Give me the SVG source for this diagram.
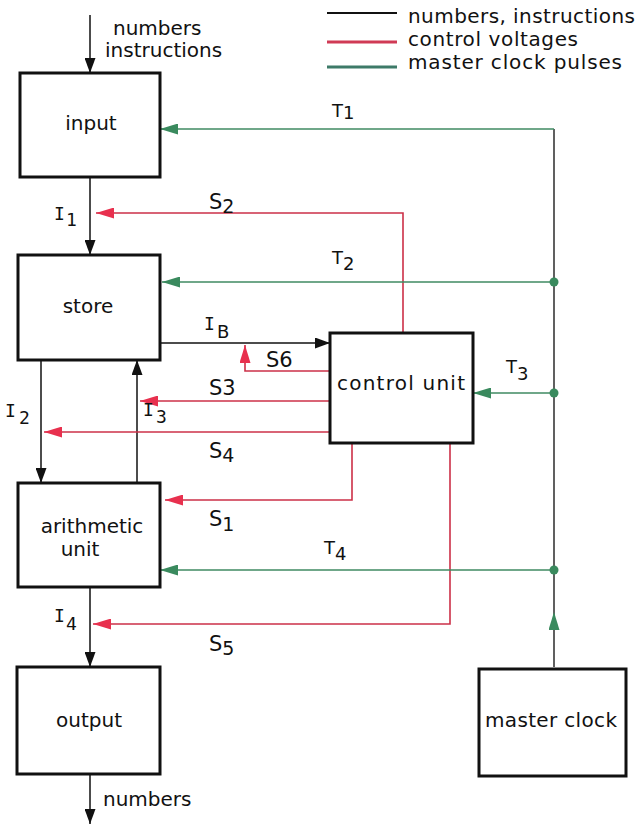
<svg xmlns="http://www.w3.org/2000/svg" width="639" height="826" viewBox="0 0 639 826">
<style>
.box{fill:#fff;stroke:#111;stroke-width:3}
.t{font-family:"DejaVu Sans",sans-serif;font-size:20px;fill:#111}
.lb{font-family:"DejaVu Sans",sans-serif;font-size:21px;fill:#111}
.lt{font-family:"DejaVu Sans",sans-serif;font-size:18px;fill:#111}
.li{font-family:"DejaVu Sans Mono",monospace;font-size:18px;fill:#111}
.k{fill:none;stroke:#111;stroke-width:1.5}
.r{fill:none;stroke:#cc3048;stroke-width:1.6}
.g{fill:none;stroke:#3f8a62;stroke-width:1.6}
.v{fill:none;stroke:#2b2b2b;stroke-width:1.5}
.dot{fill:#3a8a5e}
</style>
<defs>
<marker id="ak" markerUnits="userSpaceOnUse" markerWidth="15" markerHeight="11" refX="15" refY="5.5" orient="auto"><path d="M0,0 L15,5.5 L0,11 z" fill="#111"/></marker>
<marker id="ar" markerUnits="userSpaceOnUse" markerWidth="18" markerHeight="11" refX="18" refY="5.5" orient="auto"><path d="M0,0 L18,5.5 L0,11 z" fill="#e8304e"/></marker>
<marker id="ag" markerUnits="userSpaceOnUse" markerWidth="18" markerHeight="11" refX="18" refY="5.5" orient="auto"><path d="M0,0 L18,5.5 L0,11 z" fill="#3a8a5e"/></marker>
</defs>
<rect width="639" height="826" fill="#fff"/>

<g id="legend">
<line x1="327" y1="13" x2="397" y2="13" stroke="#111" stroke-width="2"/>
<line x1="327" y1="42" x2="397" y2="42" stroke="#d03a55" stroke-width="3"/>
<line x1="327" y1="67" x2="397" y2="67" stroke="#3d7a68" stroke-width="3"/>
<text class="t" x="408" y="23" textLength="227" lengthAdjust="spacing">numbers, instructions</text>
<text class="t" x="408" y="46" textLength="170" lengthAdjust="spacing">control voltages</text>
<text class="t" x="408" y="69" textLength="214" lengthAdjust="spacing">master clock pulses</text>
</g>

<g id="connectors">
<path class="k" d="M90,15 V73" marker-end="url(#ak)"/>
<path class="k" d="M90,177 V255" marker-end="url(#ak)"/>
<path class="k" d="M160,343 H330" marker-end="url(#ak)"/>
<path class="k" d="M41,360 V483" marker-end="url(#ak)"/>
<path class="k" d="M137,484 V360" marker-end="url(#ak)"/>
<path class="k" d="M90,587 V667" marker-end="url(#ak)"/>
<path class="k" d="M90,774 V824" marker-end="url(#ak)"/>

<path class="r" d="M403,333 V213 H96" marker-end="url(#ar)"/>
<path class="r" d="M330,371 H245 V345" marker-end="url(#ar)"/>
<path class="r" d="M330,401 H140" marker-end="url(#ar)"/>
<path class="r" d="M330,432 H44" marker-end="url(#ar)"/>
<path class="r" d="M352,443 V500 H165" marker-end="url(#ar)"/>
<path class="r" d="M450,443 V624 H93" marker-end="url(#ar)"/>

<path class="v" d="M554,612 V129"/>
<path class="v" d="M554,667 V612" marker-end="url(#ag)"/>
<path class="g" d="M554,129 H160" marker-end="url(#ag)"/>
<path class="g" d="M554,282 H162" marker-end="url(#ag)"/>
<path class="g" d="M554,393 H473" marker-end="url(#ag)"/>
<path class="g" d="M554,570 H160" marker-end="url(#ag)"/>
<circle class="dot" cx="554" cy="282" r="4.5"/>
<circle class="dot" cx="554" cy="393" r="4.5"/>
<circle class="dot" cx="554" cy="570" r="4.5"/>

<text class="t" x="113" y="35">numbers</text>
<text class="t" x="105" y="57">instructions</text>
<text class="t" x="103" y="806">numbers</text>

<text class="lt" x="332" y="117">T<tspan dy="2">1</tspan></text>
<text class="lt" x="332" y="264">T<tspan dy="6">2</tspan></text>
<text class="lt" x="506" y="373">T<tspan dy="7">3</tspan></text>
<text class="lt" x="324" y="554">T<tspan dy="6">4</tspan></text>

<text class="li" x="54" y="220">I<tspan x="66" dy="6">1</tspan></text>
<text class="li" x="5" y="417">I<tspan x="19" dy="7">2</tspan></text>
<text class="li" x="143" y="416">I<tspan x="156" dy="7">3</tspan></text>
<text class="li" x="54" y="622">I<tspan x="66" dy="8">4</tspan></text>
<text class="li" x="204" y="330">I<tspan class="lt" x="217" dy="8">B</tspan></text>

<text class="lb" x="209" y="209">S<tspan font-size="19" dy="4">2</tspan></text>
<text class="lb" x="266" y="367">S6</text>
<text class="lb" x="209" y="395">S3</text>
<text class="lb" x="209" y="458">S<tspan font-size="19" dy="4">4</tspan></text>
<text class="lb" x="209" y="526">S<tspan font-size="19" dy="5">1</tspan></text>
<text class="lb" x="209" y="651">S<tspan font-size="19" dy="4">5</tspan></text>
</g>

<g id="input"><rect class="box" x="20" y="73" width="140" height="104"/><text class="t" x="91" y="130" text-anchor="middle">input</text></g>
<g id="store"><rect class="box" x="18" y="255" width="142" height="105"/><text class="t" x="88" y="313" text-anchor="middle">store</text></g>
<g id="control-unit"><rect class="box" x="330" y="333" width="143" height="110"/><text class="t" x="401" y="390" text-anchor="middle" textLength="128" lengthAdjust="spacing">control unit</text></g>
<g id="arithmetic-unit"><rect class="box" x="18" y="483" width="142" height="104"/><text class="t" x="92" y="533" text-anchor="middle">arithmetic</text><text class="t" x="80" y="556" text-anchor="middle">unit</text></g>
<g id="output"><rect class="box" x="17" y="667" width="143" height="107"/><text class="t" x="89" y="727" text-anchor="middle">output</text></g>
<g id="master-clock"><rect class="box" x="479" y="669" width="147" height="107"/><text class="t" x="551" y="727" text-anchor="middle" textLength="132" lengthAdjust="spacing">master clock</text></g>
</svg>
